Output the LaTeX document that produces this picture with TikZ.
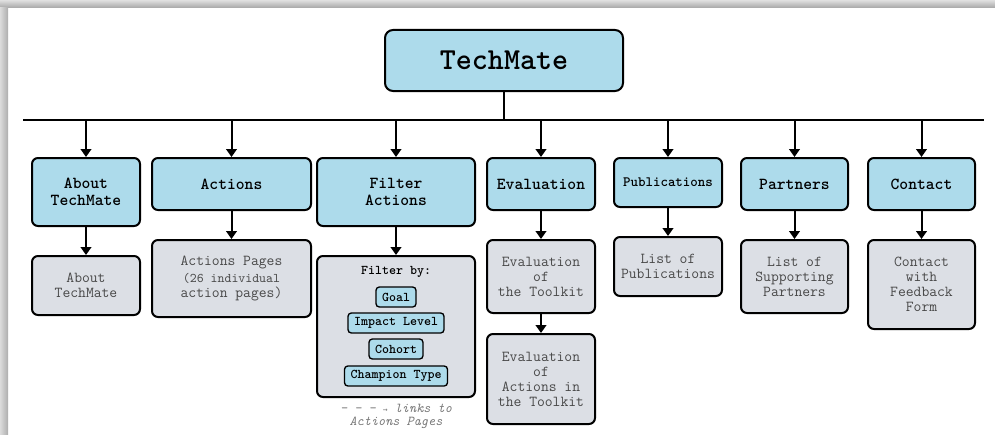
\documentclass[tikz,border=0pt]{standalone}
\usepackage{fontspec}
\newfontfamily\arrowfont{DejaVu Sans Mono}
\usetikzlibrary{
    arrows.meta,
    calc
}
\definecolor{techblue}{RGB}{173,219,235}
\definecolor{pagegrey}{RGB}{220,223,229}
\definecolor{textgrey}{RGB}{72,72,72}
\definecolor{notegrey}{RGB}{120,120,120}
\tikzset {
    headbox/.style = {
        draw, fill = techblue, line width = 1.5pt,
        rounded corners = 4.5pt, inner sep = 0pt, align = center,
        font = \ttfamily\bfseries\fontsize{12.6}{12.5}\selectfont
    },
    pagebox/.style = {
        draw, fill = pagegrey, line width = 1.5pt,
        rounded corners = 4.5pt, inner sep = 0pt, align = center,
        text = textgrey,
        font = \ttfamily\fontsize{11.4}{11.25}\selectfont
    },
    chip/.style = {
        draw, fill = techblue, line width = 1pt,
        rounded corners = 2.5pt, inner xsep = 4.5pt, inner ysep = 0pt,
        minimum height = 15pt,
        font = \ttfamily\bfseries\fontsize{10}{10}\selectfont
    },
    down/.style = {
        line width = 1.5pt,
        -{Triangle[length = 6pt, width = 8pt]}
    },
    bar/.style = {line width = 1.5pt}
}

\begin{document}
\begin{tikzpicture}[x = 0.75pt, y = -0.75pt]
    \useasboundingbox (0, 0) rectangle (995, 435);
    % window shadow
    \shade[top color = black!12, bottom color = black!35] (0, 0) rectangle (995, 8);
    \shade[left color = black!14, right color = black!32] (0, 8) rectangle (8, 435);

    % root
    \node (top) [headbox, minimum width = 178.5pt, minimum height = 45.75pt,
        rounded corners = 6pt, font = \ttfamily\bfseries\fontsize{22.9}{24}\selectfont]
        at (504, 60.5) {TechMate};
    \coordinate (busL) at (23, 120);
    \coordinate (busR) at (984, 120);
    \draw [bar] (busL) -- (busR);
    \draw [bar] (top) -- (top |- busL);

    % sections
    \node (about) [headbox, minimum width = 81pt, minimum height = 51pt]
        at (86, 192) {About\\TechMate};
    \node (actions) [headbox, minimum width = 119.25pt, minimum height = 39pt]
        at (231.5, 184) {Actions};
    \node (filter) [headbox, minimum width = 118.5pt, minimum height = 51pt]
        at (396, 192) {Filter\\Actions};
    \node (eval) [headbox, minimum width = 81pt, minimum height = 39pt]
        at (541, 184) {Evaluation};
    \node (pubs) [headbox, minimum width = 81pt, minimum height = 36.75pt,
        font = \ttfamily\bfseries\fontsize{10.7}{11}\selectfont]
        at (668, 182.5) {Publications};
    \node (partners) [headbox, minimum width = 80.25pt, minimum height = 39pt]
        at (794.5, 184) {Partners};
    \node (contact) [headbox, minimum width = 80.25pt, minimum height = 39pt]
        at (921.5, 184) {Contact};

    \foreach \s in {about, actions, filter, eval, pubs, partners, contact}
        \draw [down] (\s |- busL) -- (\s.north);

    % pages
    \node (aboutpage) [pagebox, minimum width = 81pt, minimum height = 44.25pt]
        at (86, 285.5) {About\\TechMate};
    \node (actpage) [pagebox, minimum width = 119.25pt, minimum height = 57.75pt]
        at (231.5, 278.5) {Actions Pages\\[2pt]
        \fontsize{9.9}{10.5}\selectfont (26 individual\\action pages)};
    \node (filterpage) [pagebox, minimum width = 118.5pt, minimum height = 105.75pt]
        at (396, 326.5) {};
    \node (evaltool) [pagebox, minimum width = 81pt, minimum height = 54.75pt]
        at (541, 276.5) {Evaluation\\of\\the Toolkit};
    \node (evalact) [pagebox, minimum width = 81pt, minimum height = 67.5pt]
        at (541, 379) {Evaluation\\of\\Actions in\\the Toolkit};
    \node (publist) [pagebox, minimum width = 81pt, minimum height = 44.25pt]
        at (668, 266.5) {List of\\Publications};
    \node (partlist) [pagebox, minimum width = 80.25pt, minimum height = 54.75pt]
        at (794.5, 276.5) {List of\\Supporting\\Partners};
    \node (contactform) [pagebox, minimum width = 80.25pt, minimum height = 66.75pt]
        at (921.5, 284.5) {Contact\\with\\Feedback\\Form};

    \draw [down] (about) -- (aboutpage);
    \draw [down] (actions) -- (actpage);
    \draw [down] (filter) -- (filterpage);
    \draw [down] (eval) -- (evaltool);
    \draw [down] (evaltool) -- (evalact);
    \draw [down] (pubs) -- (publist);
    \draw [down] (partners) -- (partlist);
    \draw [down] (contact) -- (contactform);

    % filter options
    \node (filterby) [font = \ttfamily\bfseries\fontsize{10}{10}\selectfont]
        at (396, 272) {Filter by:};
    \node (goal) [chip] at (396, 297) {Goal};
    \node (impact) [chip] at (396, 323) {Impact Level};
    \node (cohort) [chip] at (396, 349) {Cohort};
    \node (champion) [chip] at (396, 376) {Champion Type};
    \node (note) [align = center, text = notegrey, inner sep = 0pt,
        font = \ttfamily\itshape\fontsize{10.2}{10}\selectfont]
        at (396, 416.5) {- - - {\upshape\arrowfont\fontsize{6}{6}\selectfont →} links to\\Actions Pages};
\end{tikzpicture}
\end{document}
